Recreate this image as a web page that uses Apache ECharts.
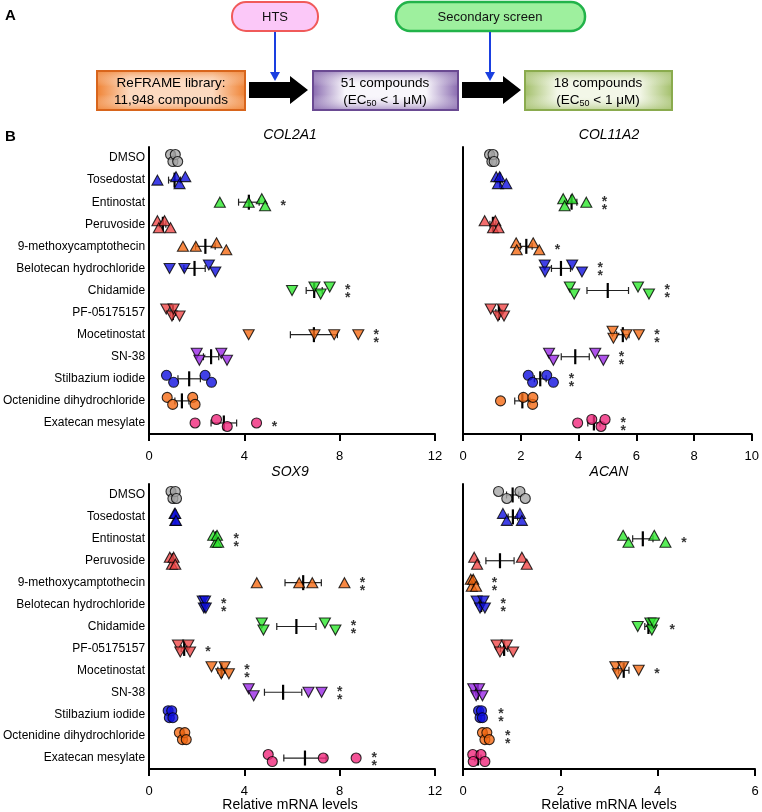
<!DOCTYPE html>
<html><head><meta charset="utf-8">
<script src="https://cdn.jsdelivr.net/npm/echarts@6/dist/echarts.min.js"></script>
<style>html,body{margin:0;padding:0;background:#fff}#c{width:762px;height:812px}</style>
</head><body><div id="c"></div>
<script>
const categories = ['DMSO','Tosedostat','Entinostat','Peruvoside','9-methoxycamptothecin','Belotecan hydrochloride','Chidamide','PF-05175157','Mocetinostat','SN-38','Stilbazium iodide','Octenidine dihydrochloride','Exatecan mesylate'];

const col2a1 = [
 [0.9,1.0,1.1,1.2],[0.35,1.13,1.28,1.52],[2.97,4.18,4.73,4.87],[0.35,0.41,0.65,0.9],
 [1.42,1.96,2.83,3.24],[0.86,1.48,2.51,2.78],[6.0,6.94,7.2,7.58],[0.72,0.96,1.03,1.28],
 [4.18,6.94,7.77,8.78],[2.0,2.11,3.03,3.27],[0.73,1.03,2.35,2.62],[0.76,0.99,1.83,1.93],
 [1.93,2.83,3.28,4.51]];
const col2a1Sig = ['','','*','','','','**','','**','','','','*'];

const col11a2 = [
 [0.92,1.0,1.04,1.08],[1.15,1.21,1.27,1.5],[3.47,3.52,3.78,4.27],[0.75,1.04,1.12,1.23],
 [1.84,1.86,2.43,2.64],[2.83,2.84,3.78,4.12],[3.7,3.85,6.06,6.44],[0.96,1.21,1.38,1.42],
 [5.18,5.21,5.66,6.09],[2.98,3.13,4.58,4.86],[2.26,2.41,2.9,3.13],[1.3,2.09,2.41,2.42],
 [3.97,4.46,4.78,4.92]];
const col11a2Sig = ['','','**','','*','**','**','','**','**','**','','**'];

const sox9 = [
 [0.92,1.0,1.1,1.15],[1.07,1.1,1.1,1.13],[2.69,2.8,2.85,2.9],[0.87,0.96,1.03,1.1],
 [4.52,6.3,6.85,8.2],[2.25,2.3,2.35,2.38],[4.73,4.8,7.38,7.82],[1.21,1.31,1.65,1.72],
 [2.62,3.03,3.17,3.35],[4.18,4.39,6.69,7.24],[0.8,0.85,0.95,1.0],[1.27,1.4,1.5,1.56],
 [5.0,5.17,7.31,8.69]];
const sox9Sig = ['','','**','','**','**','**','*','**','**','','','**'];

const acan = [
 [0.73,0.9,1.17,1.28],[0.82,0.9,1.17,1.21],[3.29,3.4,3.93,4.16],[0.23,0.29,1.21,1.31],
 [0.16,0.18,0.21,0.27],[0.28,0.35,0.42,0.45],[3.59,3.85,3.88,3.92],[0.69,0.76,0.9,1.03],
 [3.13,3.18,3.29,3.61],[0.21,0.27,0.33,0.4],[0.32,0.35,0.38,0.4],[0.4,0.45,0.49,0.54],
 [0.2,0.21,0.37,0.45]];
const acanSig = ['','','*','','**','**','*','','*','','**','**',''];

const panelTitles = ['COL2A1','COL11A2','SOX9','ACAN'];
const axisMax = [12,10,12,6];
const axisInterval = [4,2,4,2];
const xAxisTitle = 'Relative mRNA levels';

// styles
const markerColors = ['#a6a6a6','#1010e0','#2ee82e','#f04848','#f56a14','#1010e0','#2ee82e','#f04848','#f56a14','#9a28e6','#1010e0','#f56a14','#f0287c'];
const markerShapes = ['circle','up','up','up','up','down','down','down','down','down','circle','circle','circle'];

const panels = [
  {vals: col2a1, sig: col2a1Sig},
  {vals: col11a2, sig: col11a2Sig},
  {vals: sox9, sig: sox9Sig},
  {vals: acan, sig: acanSig}
];
const grids = [
  {left:145, top:147, width:290, height:287},
  {left:463, top:147, width:292, height:287},
  {left:145, top:484, width:290, height:285},
  {left:463, top:484, width:292, height:285}
];
const FONT = 'Liberation Sans, Arial, sans-serif';

function stats(a){
  const n=a.length, m=a.reduce((s,v)=>s+v,0)/n;
  const sd=Math.sqrt(a.reduce((s,v)=>s+(v-m)*(v-m),0)/(n-1));
  return [m, sd/Math.sqrt(n)];
}

const xAxes=[], yAxes=[], series=[];
panels.forEach((p,pi)=>{
  xAxes.push({gridIndex:pi, type:'value', min:0, max:axisMax[pi], interval:axisInterval[pi],
    axisLine:{show:true, lineStyle:{color:'#000', width:2}},
    axisTick:{show:true, length:7, lineStyle:{color:'#000', width:2}},
    splitLine:{show:false},
    axisLabel:{color:'#000', fontSize:13, fontFamily:FONT, margin:16}});
  yAxes.push({gridIndex:pi, type:'category', data:categories, inverse:true,
    axisLine:{show:true, onZero:false, lineStyle:{color:'#000', width:2}},
    axisTick:{show:false}, splitLine:{show:false},
    axisLabel:{show: pi%2===0, color:'#000', fontSize:12, fontFamily:FONT, margin:4}});
  const pts=[], errs=[], stars=[];
  const thr = 0.04*axisMax[pi];
  p.vals.forEach((arr,ci)=>{
    const sorted = arr.map((v,i)=>({v,i})).sort((a,b)=>a.v-b.v);
    let alt = 0;
    sorted.forEach((o,k)=>{
      const close = (k>0 && o.v-sorted[k-1].v<thr) || (k<sorted.length-1 && sorted[k+1].v-o.v<thr);
      let off = 0;
      if(close){ off = (alt%2===0)? -3.5 : 3.5; alt++; }
      const shape = markerShapes[ci];
      pts.push({value:[o.v, ci],
        symbol: shape==='circle'?'circle':'triangle',
        symbolRotate: shape==='down'?180:0,
        symbolSize: shape==='circle'?10:[11,10],
        symbolOffset:[0,off],
        itemStyle:{color:markerColors[ci], borderColor:'#000', borderWidth:1.1}});
    });
    const [m,se]=stats(arr);
    errs.push([m, ci, m-se, m+se]);
    if(p.sig[ci]) stars.push([Math.max(...arr)+0.063*axisMax[pi], ci, p.sig[ci]]);
  });
  series.push({type:'custom', xAxisIndex:pi, yAxisIndex:pi, z:2, data:errs,
    encode:{x:[0,2,3], y:1},
    renderItem:(params, api)=>{
      const ci=api.value(1);
      const m=api.coord([api.value(0),ci]);
      const lo=api.coord([api.value(2),ci]);
      const hi=api.coord([api.value(3),ci]);
      const y=m[1];
      const st={stroke:'#222', lineWidth:1.2};
      return {type:'group', children:[
        {type:'line', shape:{x1:lo[0],y1:y,x2:hi[0],y2:y}, style:st},
        {type:'line', shape:{x1:lo[0],y1:y-3.5,x2:lo[0],y2:y+3.5}, style:st},
        {type:'line', shape:{x1:hi[0],y1:y-3.5,x2:hi[0],y2:y+3.5}, style:st},
        {type:'line', shape:{x1:m[0],y1:y-7.5,x2:m[0],y2:y+7.5}, style:{stroke:'#000', lineWidth:2.2}}
      ]};
    }});
  series.push({type:'scatter', xAxisIndex:pi, yAxisIndex:pi, z:3, data:pts, animation:false});
  series.push({type:'scatter', xAxisIndex:pi, yAxisIndex:pi, z:4, symbolSize:1,
    itemStyle:{color:'rgba(0,0,0,0)'},
    data:stars, label:{show:true, position:'inside', offset:[0,4], color:'#000', fontSize:14, fontWeight:'bold', fontFamily:FONT,
      lineHeight:8, formatter:(q)=> q.data[2]==='**' ? '*\n*' : '*'}});
});

const line = (x,y,t)=>({type:'text', x:x, y:y, z:20, style:{text:t, fill:'#000', stroke:null, font:'13.5px '+FONT, align:'center', verticalAlign:'middle'}});
const ecLine = (x,y)=>({type:'text', x:x, y:y, z:20, style:{text:'{t|(EC}{s|50}{t| < 1 μM)}', fill:'#000', stroke:null, font:'13.5px '+FONT, align:'center', verticalAlign:'middle',
     rich:{t:{fontSize:13.5, fill:'#000', fontFamily:FONT}, s:{fontSize:9, fill:'#000', fontFamily:FONT, padding:[7,0,0,0]}}}});
const lg = (dir, stops)=>({type:'linear', x:0, y:0, x2:dir==='h'?1:0, y2:dir==='h'?0:1, colorStops:stops});
const softBox = (x,y,w,h,edge,edgeA,light,stroke)=>[
  {type:'rect', z:5, shape:{x:x,y:y,width:w,height:h}, style:{fill:lg('h',[{offset:0,color:edge},{offset:0.22,color:light},{offset:0.78,color:light},{offset:1,color:edge}])}},
  {type:'rect', z:6, shape:{x:x,y:y,width:w,height:h}, style:{fill:lg('v',[{offset:0,color:edgeA},{offset:0.4,color:'rgba(255,255,255,0)'},{offset:0.6,color:'rgba(255,255,255,0)'},{offset:1,color:edgeA}]), stroke:stroke, lineWidth:2}}
];
const graphic = [
  {type:'text', left:5, top:8, style:{text:'A', font:'bold 15px '+FONT, fill:'#000'}},
  {type:'text', left:5, top:129, style:{text:'B', font:'bold 15px '+FONT, fill:'#000'}},
  // pills
  {type:'rect', shape:{x:232,y:2,width:86,height:29,r:14}, style:{fill:'#fbc8f8', stroke:'#f05a5a', lineWidth:2}},
  {type:'text', x:275, y:17, style:{text:'HTS', font:'13px '+FONT, fill:'#111', align:'center', verticalAlign:'middle'}},
  {type:'rect', shape:{x:396,y:2,width:189,height:29,r:14}, style:{fill:'#9ef09e', stroke:'#22b34a', lineWidth:2.5}},
  {type:'text', x:490, y:17, style:{text:'Secondary screen', font:'13px '+FONT, fill:'#111', align:'center', verticalAlign:'middle'}},
  // blue arrows
  {type:'line', shape:{x1:275,y1:32,x2:275,y2:74}, style:{stroke:'#1a3fe0', lineWidth:2}},
  {type:'polygon', shape:{points:[[270,72],[280,72],[275,81]]}, style:{fill:'#1a3fe0'}},
  {type:'line', shape:{x1:490,y1:32,x2:490,y2:74}, style:{stroke:'#1a3fe0', lineWidth:2}},
  {type:'polygon', shape:{points:[[485,72],[495,72],[490,81]]}, style:{fill:'#1a3fe0'}},
  // boxes
  ...softBox(97,71,148,39,'#f08436','rgba(240,132,54,0.75)','#fcd9bf','#d8651c'),
  line(171, 83, 'ReFRAME library:'), line(171, 100, '11,948 compounds'),
  ...softBox(313,71,145,39,'#8a6cb0','rgba(138,108,176,0.75)','#f8f6fb','#6a4a92'),
  line(385, 83, '51 compounds'), ecLine(385, 100),
  ...softBox(525,71,147,39,'#a4c06c','rgba(164,192,108,0.75)','#f3f7e8','#8aab4e'),
  line(598, 83, '18 compounds'), ecLine(598, 100),
  // black block arrows
  {type:'polygon', shape:{points:[[249,82],[290,82],[290,76],[308,90],[290,104],[290,98],[249,98]]}, style:{fill:'#000'}},
  {type:'polygon', shape:{points:[[462,82],[503,82],[503,76],[521,90],[503,104],[503,98],[462,98]]}, style:{fill:'#000'}}
];
grids.forEach((g,i)=>{
  graphic.push({type:'text', x:g.left+g.width/2, y:g.top-12, style:{text:panelTitles[i], font:'italic 14px '+FONT, fill:'#000', align:'center', verticalAlign:'middle'}});
  if(i>=2) graphic.push({type:'text', x:g.left+g.width/2, y:805, style:{text:xAxisTitle, font:'14px '+FONT, fill:'#000', align:'center', verticalAlign:'middle'}});
});

const chart = echarts.init(document.getElementById('c'), null, {renderer:'canvas'});
chart.setOption({animation:false, grid:grids, xAxis:xAxes, yAxis:yAxes, series, graphic});
</script></body></html>
